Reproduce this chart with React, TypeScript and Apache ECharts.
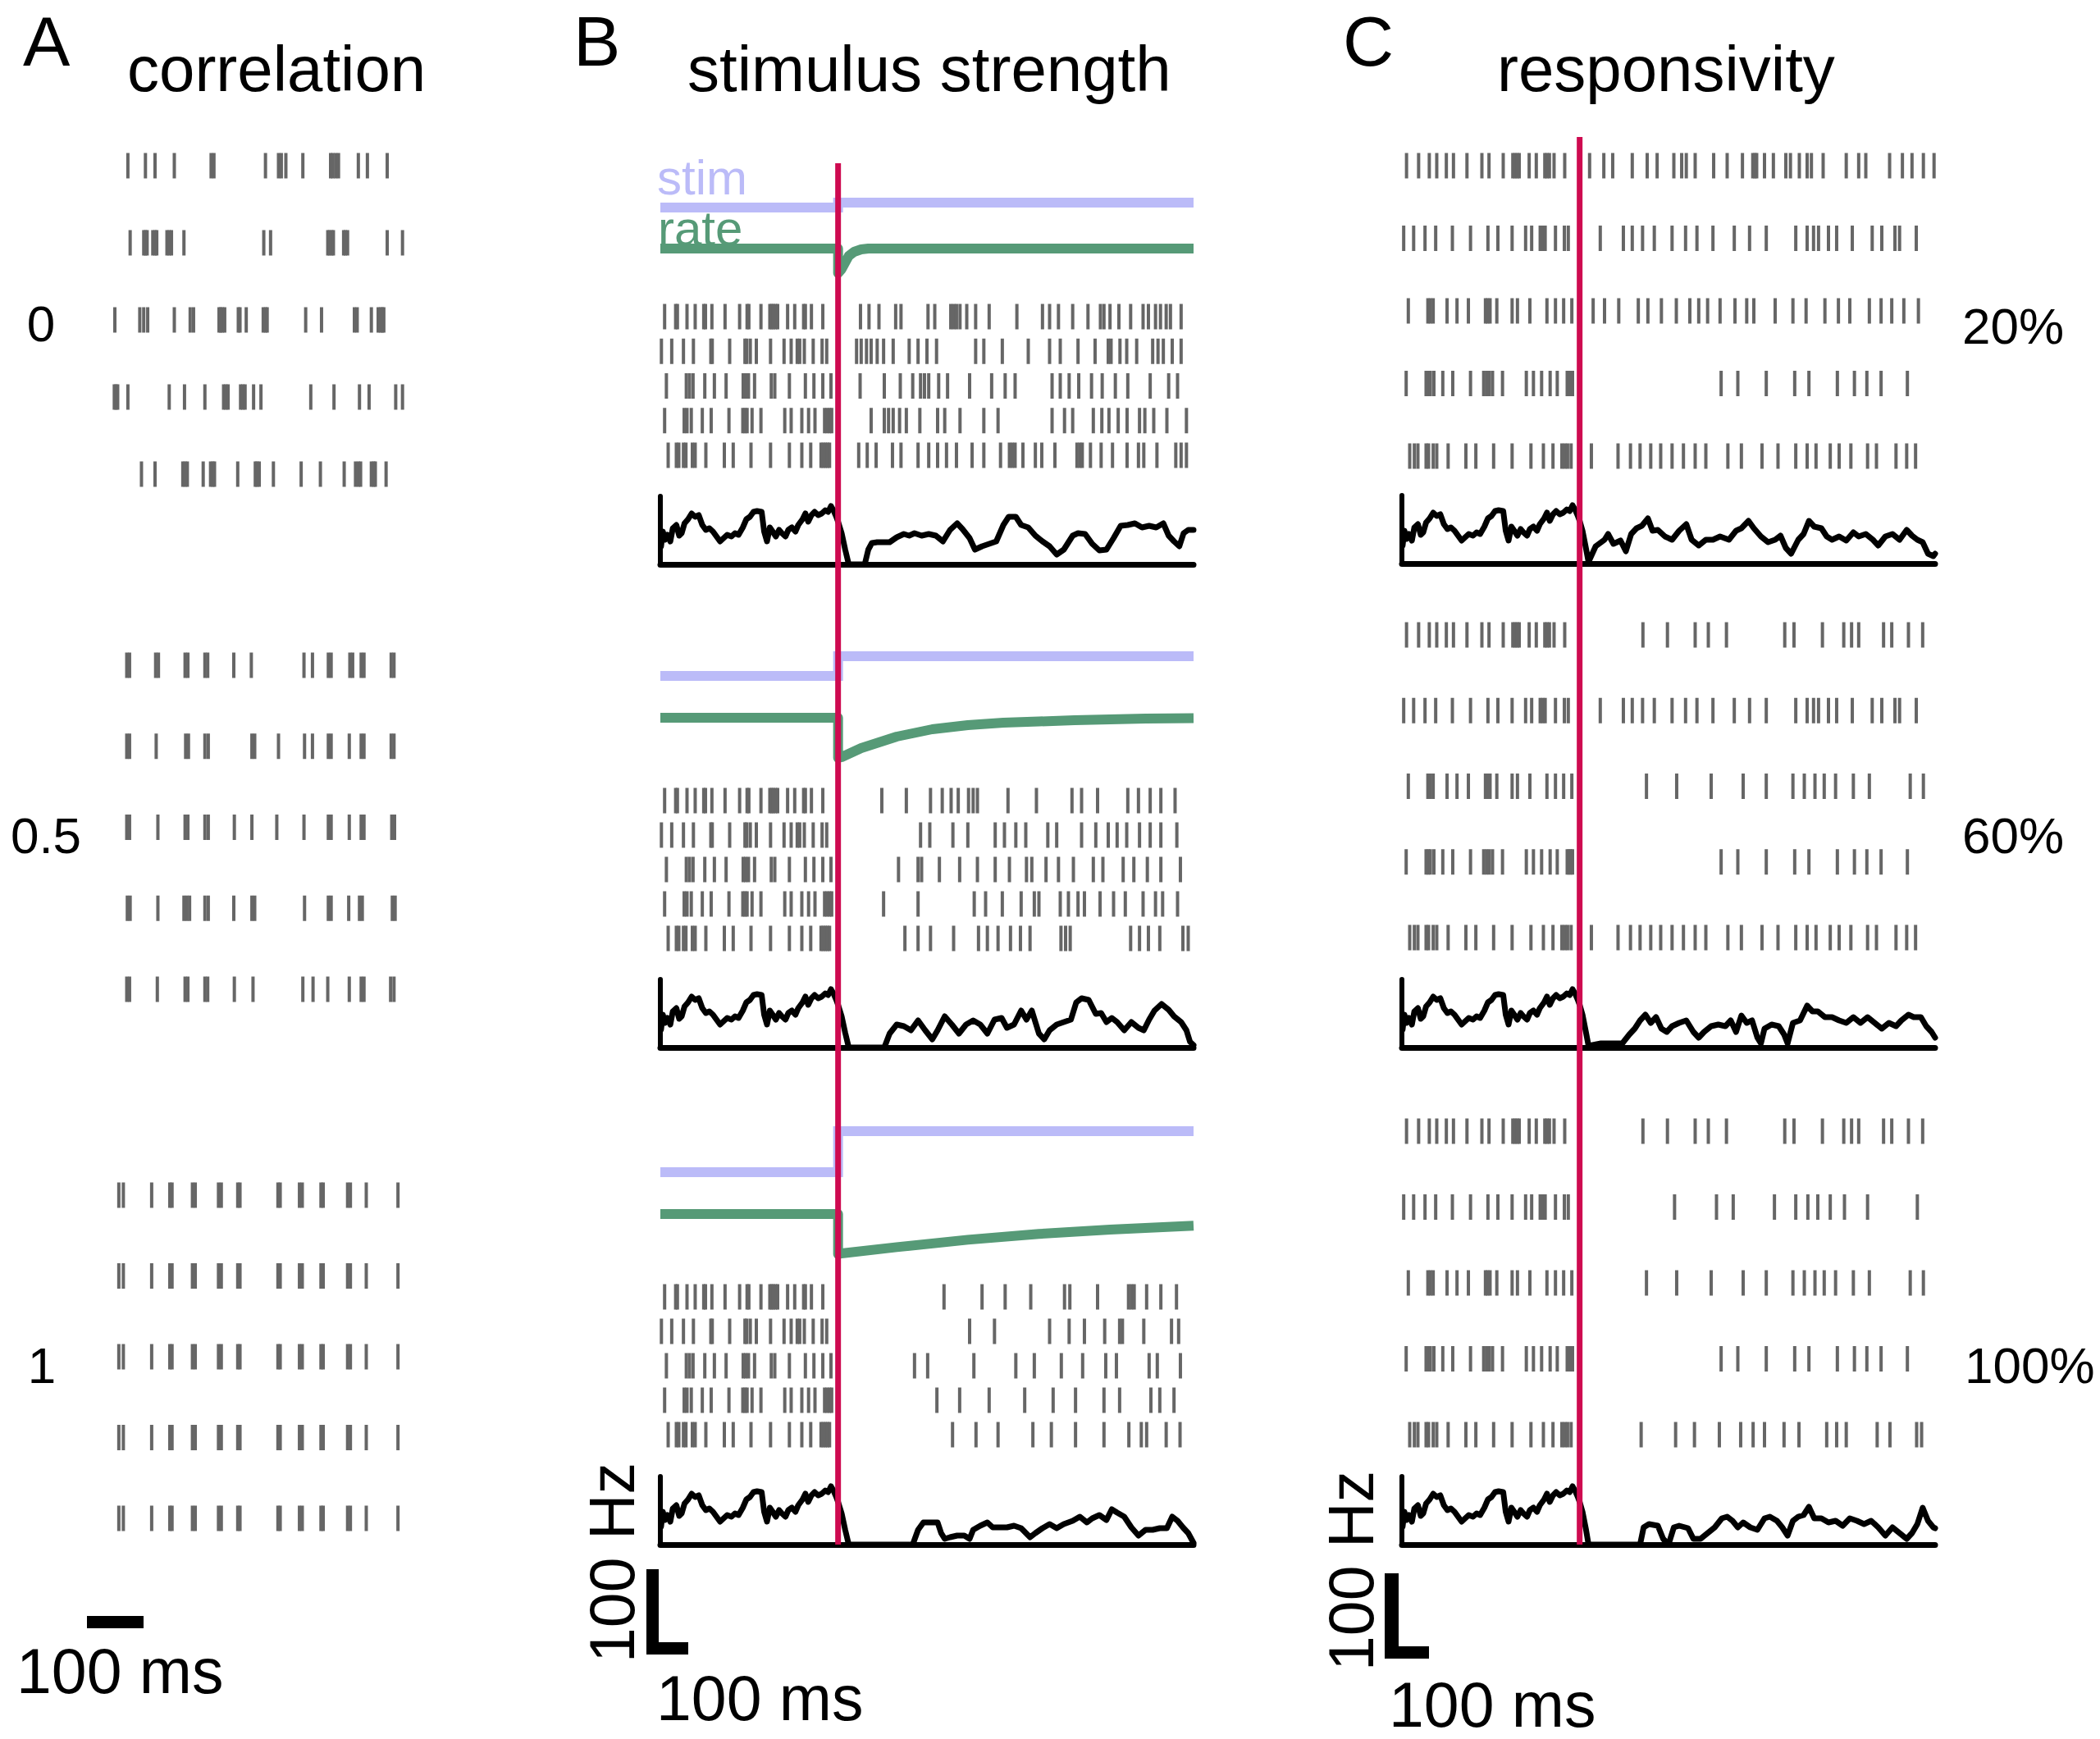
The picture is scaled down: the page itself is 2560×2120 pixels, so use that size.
import React, { useEffect, useRef } from "react";
import * as echarts from "echarts";

const FONT = "'Liberation Sans', Arial, Helvetica, sans-serif";
const SPIKE = "#666666";
const STIM_COLOR = "#BBBBF8";
const RATE_COLOR = "#569A77";
const RED = "#CE0A50";

// ---------- Panel A: correlation (spike times, ms) ----------
const A_LABELS = ["0", "0.5", "1"];
const A_CORR0 = [
  [52, 83, 100, 134, 199, 204, 295, 318, 323, 331, 361, 410, 414, 419, 424, 459, 475, 510],
  [56, 80, 83, 86, 96, 100, 103, 121, 125, 129, 151, 292, 304, 405, 408, 412, 415, 433, 436, 440, 510, 537],
  [29, 73, 80, 87, 134, 162, 168, 213, 216, 219, 223, 247, 250, 261, 291, 295, 298, 366, 394, 452, 457, 482, 494, 498, 501, 504],
  [28, 31, 34, 52, 125, 152, 188, 221, 225, 229, 251, 255, 259, 274, 287, 375, 416, 461, 478, 525, 537],
  [76, 100, 149, 153, 157, 185, 198, 202, 205, 246, 277, 280, 284, 309, 358, 392, 434, 454, 459, 463, 482, 486, 489, 508],
];
const A_CORR05 = [
  [50, 55, 101, 106, 153, 158, 188, 193, 239, 270, 363, 378, 406, 411, 444, 449, 464, 469, 517, 522],
  [50, 55, 102, 154, 159, 188, 194, 271, 276, 318, 364, 378, 406, 411, 443, 464, 469, 517, 522],
  [50, 55, 105, 153, 158, 188, 194, 240, 271, 315, 363, 406, 411, 443, 464, 469, 518, 523],
  [51, 56, 105, 151, 156, 161, 188, 194, 239, 271, 276, 364, 406, 411, 442, 461, 466, 519, 524],
  [50, 55, 104, 153, 158, 188, 193, 240, 273, 361, 379, 405, 443, 464, 469, 516, 522],
];
const A_CORR1_ROW = [36, 44, 94, 126, 130, 166, 171, 212, 217, 246, 250, 317, 321, 355, 360, 393, 397, 440, 445, 473, 529];
const A_CORR1 = [A_CORR1_ROW, A_CORR1_ROW, A_CORR1_ROW, A_CORR1_ROW, A_CORR1_ROW];

// ---------- Panel B: stimulus strength (ms relative to step) ----------
const B_PRE = [
  [-488, -457, -452, -425, -402, -378, -373, -355, -318, -277, -256, -251, -217, -192, -187, -182, -176, -170, -142, -122, -97, -92, -75, -43],
  [-497, -468, -435, -407, -358, -354, -305, -262, -257, -247, -230, -190, -152, -132, -115, -108, -95, -70, -45, -32],
  [-483, -427, -418, -408, -375, -348, -315, -267, -260, -252, -235, -188, -178, -137, -92, -68, -43, -20],
  [-488, -433, -425, -413, -382, -357, -307, -268, -262, -256, -242, -217, -150, -132, -102, -83, -65, -38, -31, -24, -18],
  [-478, -455, -448, -435, -428, -410, -402, -372, -320, -295, -245, -190, -137, -102, -77, -48, -42, -36, -30, -24],
];
const B_POST_WEAK = [
  [63, 87, 115, 162, 177, 253, 272, 317, 325, 333, 343, 362, 387, 425, 503, 575, 595, 620, 660, 703, 738, 748, 765, 790, 823, 858, 873, 893, 907, 923, 935, 965],
  [52, 65, 80, 93, 110, 128, 155, 200, 225, 250, 277, 387, 410, 462, 535, 595, 625, 675, 723, 760, 768, 793, 812, 840, 885, 900, 915, 940, 965],
  [62, 130, 175, 210, 232, 243, 255, 283, 308, 370, 432, 470, 498, 602, 625, 650, 677, 713, 743, 780, 815, 878, 930, 955],
  [93, 130, 142, 155, 173, 192, 230, 280, 300, 343, 410, 450, 602, 637, 660, 718, 742, 762, 788, 813, 848, 863, 888, 925, 980],
  [58, 82, 107, 153, 177, 225, 255, 280, 305, 333, 377, 410, 457, 482, 490, 498, 520, 555, 573, 610, 672, 680, 687, 710, 740, 772, 813, 845, 860, 897, 950, 965, 980],
];
const B_POST_MEDIUM = [
  [123, 192, 260, 293, 318, 338, 367, 380, 392, 478, 558, 658, 685, 730, 815, 845, 878, 908, 948],
  [232, 258, 323, 365, 442, 468, 500, 528, 590, 615, 685, 725, 760, 785, 812, 848, 878, 908, 953],
  [170, 225, 235, 285, 342, 392, 442, 482, 530, 545, 585, 620, 662, 718, 745, 802, 832, 870, 908, 963],
  [128, 225, 383, 415, 462, 515, 552, 565, 625, 648, 675, 693, 737, 775, 808, 858, 893, 913, 955],
  [188, 225, 260, 325, 395, 420, 450, 485, 513, 540, 627, 640, 653, 823, 848, 873, 905, 970, 985],
];
const B_POST_STRONG = [
  [298, 405, 470, 542, 637, 652, 730, 817, 825, 833, 868, 908, 952],
  [370, 440, 595, 650, 693, 750, 792, 800, 860, 938, 958],
  [215, 252, 382, 500, 552, 628, 688, 753, 783, 875, 898, 963],
  [278, 342, 425, 525, 605, 668, 748, 792, 880, 905, 945],
  [322, 388, 450, 548, 600, 668, 748, 818, 853, 868, 923, 962],
];

// stimulus level (a.u.) before / after the step
const STIM_PRE = 120;
const STIM_POST = [126, 144, 170];
// modelled rate (a.u.): [time, value]
const RATE_WEAK = [[-500, 70], [0, 70], [0, 40], [10, 45], [20, 53], [30, 61], [45, 66], [65, 69], [85, 70], [1000, 70]];
const RATE_MEDIUM = [[-500, 69], [0, 69], [0, 20], [10, 21], [65, 32], [115, 39], [165, 46], [265, 55], [365, 60], [465, 63], [565, 64.5], [665, 66], [765, 67], [865, 68], [1000, 68.6]];
const RATE_STRONG = [[-500, 69], [0, 69], [0, 20], [10, 21], [165, 28.6], [365, 37.6], [565, 44.7], [765, 50.1], [1000, 54.7]];

// population rate (Hz)
const TRACE_PRE = [[-498, 22], [-493, 40], [-487, 30], [-480, 36], [-472, 28], [-465, 44], [-455, 48], [-447, 35], [-440, 38], [-432, 50], [-422, 55], [-412, 62], [-402, 58], [-392, 60], [-382, 48], [-372, 42], [-362, 44], [-352, 40], [-342, 34], [-332, 28], [-322, 32], [-312, 36], [-300, 34], [-290, 38], [-280, 36], [-268, 45], [-258, 55], [-248, 58], [-238, 64], [-228, 65], [-215, 64], [-208, 40], [-200, 28], [-192, 45], [-184, 40], [-175, 34], [-166, 42], [-158, 38], [-148, 34], [-140, 42], [-130, 45], [-120, 40], [-112, 48], [-100, 55], [-92, 62], [-84, 52], [-75, 60], [-66, 64], [-56, 60], [-46, 62], [-36, 66], [-28, 64], [-20, 71], [-12, 65], [-5, 58], [0, 52]];
const TRACE_B_WEAK = [[10, 38], [20, 18], [30, 0], [75, 0], [85, 18], [95, 26], [110, 27], [145, 27], [165, 33], [185, 37], [200, 35], [215, 38], [235, 35], [255, 37], [275, 35], [295, 28], [315, 42], [335, 50], [350, 43], [370, 32], [385, 18], [405, 22], [425, 25], [445, 28], [465, 48], [480, 58], [500, 58], [515, 48], [535, 45], [555, 35], [575, 28], [595, 22], [615, 12], [635, 18], [660, 35], [675, 38], [695, 37], [715, 25], [735, 17], [755, 18], [775, 32], [795, 47], [815, 48], [835, 50], [855, 45], [875, 47], [895, 45], [915, 50], [930, 35], [945, 28], [960, 22], [972, 38], [985, 42], [1000, 42]];
const TRACE_B_MEDIUM = [[10, 38], [20, 18], [30, 0], [130, 0], [145, 17], [165, 28], [185, 26], [205, 21], [225, 33], [245, 21], [265, 10], [280, 21], [300, 38], [320, 28], [340, 17], [360, 28], [380, 33], [400, 28], [420, 17], [440, 34], [460, 36], [475, 24], [495, 28], [515, 45], [530, 34], [545, 45], [565, 17], [580, 10], [595, 21], [615, 28], [635, 31], [655, 34], [670, 55], [685, 60], [705, 58], [725, 41], [740, 42], [755, 31], [770, 36], [785, 31], [805, 21], [825, 31], [845, 24], [860, 21], [875, 34], [890, 45], [910, 53], [930, 46], [945, 38], [965, 31], [980, 21], [990, 7], [1000, 3]];
const TRACE_B_STRONG = [[10, 38], [20, 18], [30, 0], [210, 0], [225, 18], [240, 27], [265, 27], [280, 27], [290, 14], [300, 7], [315, 9], [335, 11], [355, 11], [370, 7], [380, 18], [400, 23], [420, 27], [435, 21], [455, 21], [475, 21], [495, 23], [515, 20], [540, 9], [555, 14], [575, 20], [595, 25], [615, 20], [635, 25], [660, 29], [680, 34], [700, 27], [715, 32], [735, 36], [755, 30], [770, 43], [785, 39], [805, 34], [825, 21], [845, 11], [865, 18], [885, 18], [905, 20], [925, 20], [940, 34], [955, 29], [970, 21], [985, 14], [1000, 2]];

// ---------- Panel C: responsivity ----------
const C_LABELS = ["20%", "60%", "100%"];
const C_PRE = [
  [-487, -453, -423, -402, -375, -355, -317, -275, -255, -215, -188, -182, -176, -170, -142, -122, -98, -92, -85, -72, -42],
  [-495, -467, -435, -405, -358, -307, -258, -230, -190, -152, -135, -111, -104, -97, -68, -43, -32],
  [-482, -427, -420, -412, -373, -345, -313, -265, -259, -252, -233, -190, -175, -140, -92, -68, -45, -22],
  [-488, -432, -426, -420, -410, -385, -357, -307, -270, -262, -254, -245, -217, -150, -130, -107, -83, -63, -35, -30, -25, -20],
  [-478, -465, -455, -432, -425, -412, -402, -370, -320, -292, -242, -190, -137, -102, -75, -50, -42, -34, -24],
];
const C_R1_ON = [28, 68, 93, 148, 190, 218, 265, 287, 300, 325, 377, 415, 458, 487, 493, 498, 520, 545, 580, 593, 618, 640, 652, 685, 750, 785, 805, 872, 908, 935, 967, 997];
const C_R1_OFF = [178, 247, 325, 362, 413, 577, 603, 683, 743, 765, 785, 855, 878, 925, 965];
const C_R2_ON = [58, 123, 148, 177, 210, 260, 298, 330, 375, 435, 478, 525, 608, 640, 658, 672, 700, 723, 767, 823, 850, 887, 900, 947];
const C_R2_OFF = [267, 385, 432, 548, 608, 642, 670, 705, 745, 810, 950];
const C_R3_ON = [38, 70, 110, 165, 192, 230, 272, 310, 335, 360, 395, 437, 470, 490, 550, 600, 637, 690, 728, 760, 815, 848, 878, 912, 953];
const C_R3_OFF = [188, 273, 370, 460, 525, 600, 632, 662, 688, 720, 770, 815, 930, 967];
const C_R4_OFF = [398, 445, 525, 605, 645, 725, 773, 808, 848, 922];
const C_R5_ON = [33, 108, 143, 170, 200, 228, 260, 292, 325, 355, 417, 455, 513, 558, 608, 640, 665, 705, 730, 763, 810, 835, 890, 920, 945];
const C_R5_OFF = [173, 270, 323, 393, 453, 488, 520, 575, 617, 695, 723, 750, 837, 873, 948, 962];
const C_POST_20 = [C_R1_ON, C_R2_ON, C_R3_ON, C_R4_OFF, C_R5_ON];
const C_POST_60 = [C_R1_OFF, C_R2_ON, C_R3_OFF, C_R4_OFF, C_R5_ON];
const C_POST_100 = [C_R1_OFF, C_R2_OFF, C_R3_OFF, C_R4_OFF, C_R5_OFF];

const TRACE_C_20 = [[8, 40], [18, 18], [25, 2], [45, 21], [70, 29], [80, 36], [95, 24], [115, 28], [130, 15], [145, 36], [160, 43], [175, 46], [192, 55], [205, 40], [220, 41], [240, 33], [260, 29], [280, 40], [300, 48], [315, 29], [335, 22], [355, 29], [375, 29], [395, 33], [420, 29], [440, 40], [455, 43], [475, 52], [490, 43], [510, 33], [530, 26], [550, 29], [565, 34], [580, 19], [595, 12], [615, 29], [630, 36], [645, 52], [660, 45], [680, 43], [695, 33], [710, 29], [730, 33], [750, 28], [770, 38], [785, 33], [805, 36], [825, 29], [840, 22], [860, 33], [880, 36], [900, 29], [920, 41], [935, 34], [950, 29], [965, 26], [980, 12], [995, 9], [1000, 12]];
const TRACE_C_60 = [[8, 40], [18, 18], [25, 2], [60, 5], [100, 5], [120, 5], [140, 16], [155, 23], [170, 33], [185, 40], [200, 30], [215, 37], [230, 23], [245, 19], [260, 26], [280, 30], [300, 33], [320, 19], [335, 12], [350, 19], [370, 26], [390, 28], [410, 26], [425, 33], [440, 19], [455, 39], [470, 30], [485, 33], [500, 12], [510, 5], [520, 23], [540, 28], [560, 26], [575, 16], [585, 5], [600, 30], [620, 33], [640, 51], [655, 44], [670, 44], [690, 37], [710, 37], [730, 33], [750, 30], [770, 37], [790, 30], [810, 37], [830, 30], [850, 23], [870, 30], [890, 26], [905, 33], [925, 40], [940, 37], [960, 37], [975, 26], [990, 19], [1000, 12]];
const TRACE_C_100 = [[8, 40], [18, 18], [25, 0], [170, 0], [180, 21], [195, 25], [220, 23], [235, 7], [250, 0], [265, 21], [280, 23], [305, 20], [320, 7], [340, 7], [360, 14], [380, 21], [400, 32], [415, 34], [430, 29], [445, 21], [460, 27], [480, 21], [500, 18], [520, 32], [535, 34], [555, 29], [570, 21], [585, 11], [600, 29], [615, 34], [630, 36], [645, 46], [660, 32], [680, 32], [700, 27], [720, 29], [740, 23], [760, 32], [780, 29], [800, 25], [820, 29], [840, 21], [860, 11], [880, 21], [900, 14], [920, 7], [935, 14], [950, 25], [965, 45], [980, 29], [995, 21], [1000, 20]];

// ---------- layout (pixels) ----------
const W = 2560;
const H = 2120;
const A_X = { left: 120, width: 390, min: 0, max: 565 };
const B_X = { left: 805, width: 650, min: -500, max: 1000 };
const C_X = { left: 1709, width: 650, min: -500, max: 1000 };

export default function App() {
  const ref = useRef<HTMLDivElement>(null);

  useEffect(() => {
    if (!ref.current) return;
    const chart = echarts.init(ref.current, undefined, { renderer: "svg", width: W, height: H });

    const grids: any[] = [];
    const xAxes: any[] = [];
    const yAxes: any[] = [];
    const series: any[] = [];

    const addGrid = (
      xs: { left: number; width: number; min: number; max: number },
      top: number,
      height: number,
      ymin: number,
      ymax: number,
      inverse = false,
      axes = false
    ) => {
      const i = grids.length;
      grids.push({ left: xs.left, top, width: xs.width, height, containLabel: false });
      xAxes.push({
        type: "value", gridIndex: i, min: xs.min, max: xs.max, show: axes,
        axisLine: { show: axes, onZero: false, lineStyle: { color: "#000", width: 7 } },
        axisTick: { show: false }, axisLabel: { show: false }, splitLine: { show: false },
      });
      yAxes.push({
        type: "value", gridIndex: i, min: ymin, max: ymax, inverse, show: axes,
        axisLine: { show: axes, onZero: false, lineStyle: { color: "#000", width: 6 } },
        axisTick: { show: false }, axisLabel: { show: false }, splitLine: { show: false },
      });
      return i;
    };

    const raster = (xs: any, firstRowY: number, spacing: number, rows: number[][]) => {
      const g = addGrid(xs, firstRowY - spacing / 2, spacing * 5, 0.5, 5.5, true);
      const data: number[][] = [];
      rows.forEach((r, k) => r.forEach((t) => data.push([t, k + 1])));
      series.push({
        type: "scatter", xAxisIndex: g, yAxisIndex: g, data, symbol: "rect",
        symbolSize: [4, 31], itemStyle: { color: SPIKE, opacity: 1 }, silent: true, large: false,
      });
    };

    const trace = (xs: any, top: number, post: number[][]) => {
      const g = addGrid(xs, top, 83, 0, 83, false, true);
      series.push({
        type: "line", xAxisIndex: g, yAxisIndex: g, data: TRACE_PRE.concat(post),
        showSymbol: false, symbol: "none", clip: false, silent: true,
        lineStyle: { color: "#000", width: 7, join: "round", cap: "round" },
      });
    };

    const curves = (bottom: number, stimPost: number, rate: number[][]) => {
      const g = addGrid(B_X, bottom - 200, 200, 0, 200);
      series.push({
        type: "line", xAxisIndex: g, yAxisIndex: g,
        data: [[-500, STIM_PRE], [0, STIM_PRE], [0, stimPost], [1000, stimPost]],
        showSymbol: false, symbol: "none", clip: false, silent: true,
        lineStyle: { color: STIM_COLOR, width: 12, cap: "butt", join: "miter" },
      });
      series.push({
        type: "line", xAxisIndex: g, yAxisIndex: g, data: rate, smooth: false,
        showSymbol: false, symbol: "none", clip: false, silent: true,
        lineStyle: { color: RATE_COLOR, width: 12, cap: "butt", join: "round" },
      });
    };

    // Panel A
    raster(A_X, 202, 94, A_CORR0);
    raster(A_X, 811, 98.75, A_CORR05);
    raster(A_X, 1457, 98.5, A_CORR1);

    // Panel B
    const bPost = [B_POST_WEAK, B_POST_MEDIUM, B_POST_STRONG];
    const bRaster = [386, 976, 1581];
    const bSpacing = [42.25, 42, 42];
    const bTrace = [605, 1194, 1800];
    const bCurveBottom = [373, 944, 1549];
    const bRates = [RATE_WEAK, RATE_MEDIUM, RATE_STRONG];
    const bTraces = [TRACE_B_WEAK, TRACE_B_MEDIUM, TRACE_B_STRONG];
    for (let k = 0; k < 3; k++) {
      curves(bCurveBottom[k], STIM_POST[k], bRates[k]);
      raster(B_X, bRaster[k], bSpacing[k], B_PRE.map((r, i) => r.concat(bPost[k][i])));
      trace(B_X, bTrace[k], bTraces[k]);
    }

    // Panel C
    const cPost = [C_POST_20, C_POST_60, C_POST_100];
    const cRaster = [202, 774, 1379];
    const cSpacing = [88.5, 92.25, 92.5];
    const cTrace = [604, 1194, 1800];
    const cTraces = [TRACE_C_20, TRACE_C_60, TRACE_C_100];
    for (let k = 0; k < 3; k++) {
      raster(C_X, cRaster[k], cSpacing[k], C_PRE.map((r, i) => r.concat(cPost[k][i])));
      trace(C_X, cTrace[k], cTraces[k]);
    }

    // stimulus onset lines
    const redB = addGrid(B_X, 199, 1684, 0, 1);
    const redC = addGrid(C_X, 167, 1716, 0, 1);
    [redB, redC].forEach((g) =>
      series.push({
        type: "line", xAxisIndex: g, yAxisIndex: g, data: [[0, 0], [0, 1]], z: 10,
        showSymbol: false, symbol: "none", clip: false, silent: true,
        lineStyle: { color: RED, width: 7, cap: "butt" },
      })
    );

    const txt = (text: string, x: number, y: number, size: number, extra: any = {}, fill = "#000") => ({
      type: "text", x, y, silent: true, ...extra,
      style: { text, fill, fontSize: size, fontFamily: FONT, align: extra.align || "left", verticalAlign: "middle" },
    });

    const graphic: any[] = [
      txt("A", 28, 50, 86),
      txt("correlation", 155, 84, 78),
      txt("B", 699, 50, 86),
      txt("stimulus strength", 838, 84, 78),
      txt("C", 1637, 50, 86),
      txt("responsivity", 1825, 84, 78),
      txt("stim", 801, 216, 60, {}, STIM_COLOR),
      txt("rate", 802, 278, 60, {}, RATE_COLOR),
      txt(A_LABELS[0], 50, 394, 62, { align: "center" }),
      txt(A_LABELS[1], 56, 1018, 62, { align: "center" }),
      txt(A_LABELS[2], 51, 1664, 62, { align: "center" }),
      txt(C_LABELS[0], 2392, 397, 62),
      txt(C_LABELS[1], 2392, 1018, 62),
      txt(C_LABELS[2], 2395, 1664, 62),
      // scale bars
      { type: "rect", silent: true, shape: { x: 106, y: 1970, width: 69, height: 15 }, style: { fill: "#000" } },
      txt("100 ms", 20, 2037, 77),
      { type: "rect", silent: true, shape: { x: 788, y: 1913, width: 15, height: 104 }, style: { fill: "#000" } },
      { type: "rect", silent: true, shape: { x: 788, y: 2002, width: 51, height: 15 }, style: { fill: "#000" } },
      { type: "text", silent: true, x: 746, y: 1905, rotation: Math.PI / 2,
        style: { text: "100 Hz", fill: "#000", fontSize: 77, fontFamily: FONT, align: "center", verticalAlign: "middle" } },
      txt("100 ms", 800, 2070, 77),
      { type: "rect", silent: true, shape: { x: 1688, y: 1918, width: 17, height: 104 }, style: { fill: "#000" } },
      { type: "rect", silent: true, shape: { x: 1688, y: 2007, width: 54, height: 15 }, style: { fill: "#000" } },
      { type: "text", silent: true, x: 1647, y: 1915, rotation: Math.PI / 2,
        style: { text: "100 Hz", fill: "#000", fontSize: 77, fontFamily: FONT, align: "center", verticalAlign: "middle" } },
      txt("100 ms", 1693, 2078, 77),
    ];

    chart.setOption({
      animation: false,
      backgroundColor: "#ffffff",
      grid: grids,
      xAxis: xAxes,
      yAxis: yAxes,
      series,
      graphic,
    });

    return () => chart.dispose();
  }, []);

  return (
    <div
      ref={ref}
      style={{ position: "absolute", left: 0, top: 0, width: W, height: H, background: "#fff" }}
    />
  );
}
